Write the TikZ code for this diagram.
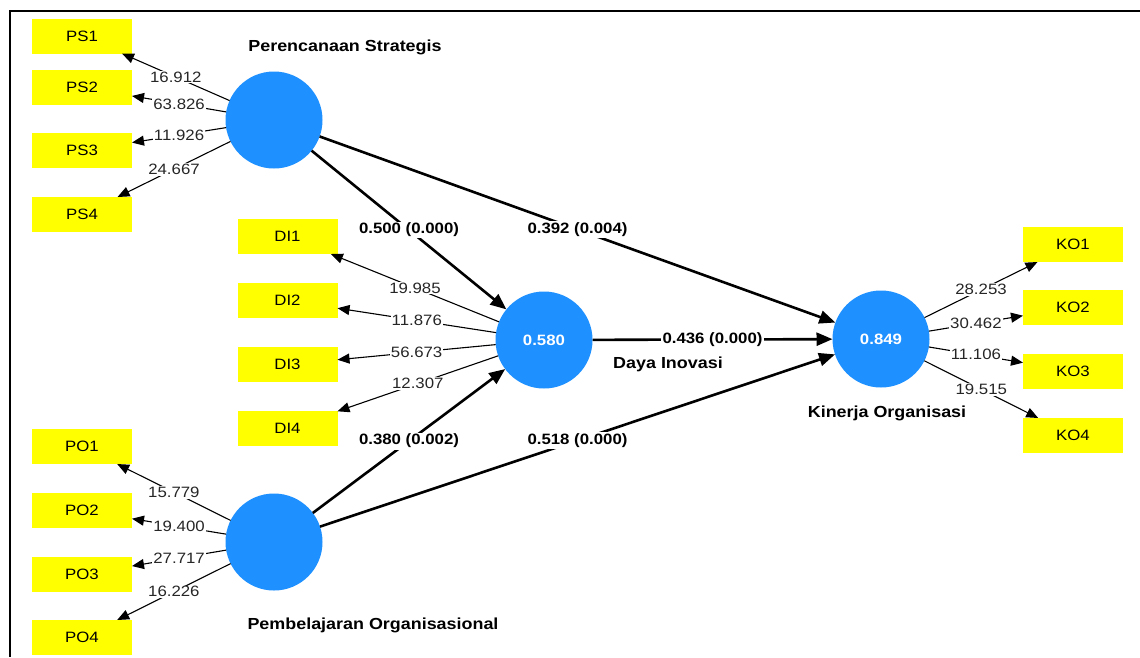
\documentclass[tikz,border=0pt]{standalone}
\usepackage{fontspec}
\setmainfont[FakeStretch=1.12]{Liberation Sans}
\usetikzlibrary{arrows.meta}
\definecolor{lvblue}{RGB}{30,144,255}
\definecolor{indyellow}{RGB}{255,255,0}
\begin{document}
\begin{tikzpicture}[x=1pt,y=-1pt,
 lv/.style={circle, fill=lvblue, minimum size=97pt, inner sep=0pt, outer sep=0pt, text=white, font=\fontsize{15}{18}\selectfont\bfseries},
 ind/.style={rectangle, fill=indyellow, minimum width=100pt, minimum height=35pt, inner sep=0pt, outer sep=0pt, font=\fontsize{15}{18}\selectfont},
 load/.style={-{Triangle[length=12pt,width=10pt]}, line width=1.1pt},
 pathc/.style={-{Triangle[length=16pt,width=13pt]}, line width=2.6pt},
 lnum/.style={fill=white, inner sep=1pt, font=\fontsize{15}{18}\selectfont, text=black!85},
 pnum/.style={fill=white, inner sep=1.5pt, font=\fontsize{15}{18}\selectfont\bfseries},
 lvname/.style={font=\fontsize{16}{19}\selectfont\bfseries}
]
\useasboundingbox (0,0) rectangle (1140,657);
\draw[line width=2pt] (1140,11) coordinate (bTR) -- (10,11) coordinate (bTL) -- (10,657) coordinate (bBL);

% latent variables
\node[lv] (ps) at (274,120) {};
\node[lv] (di) at (544,340) {0.580};
\node[lv] (ko) at (881,339) {0.849};
\node[lv] (po) at (274,542) {};

\node[lvname] (psn) at (345,47) {Perencanaan Strategis};
\node[lvname] (din) at (668,364) {Daya Inovasi};
\node[lvname] (kon) at (887,413) {Kinerja Organisasi};
\node[lvname] (pon) at (373,625) {Pembelajaran Organisasional};

% indicators
\node[ind] (ps1) at (82,36) {PS1};
\node[ind] (ps2) at (82,87.5) {PS2};
\node[ind] (ps3) at (82,150.5) {PS3};
\node[ind] (ps4) at (82,214.5) {PS4};

\node[ind] (di1) at (287.5,236.5) {DI1};
\node[ind] (di2) at (287.5,300.5) {DI2};
\node[ind] (di3) at (287.5,364.5) {DI3};
\node[ind] (di4) at (287.5,428.5) {DI4};

\node[ind] (ko1) at (1073,244.5) {KO1};
\node[ind] (ko2) at (1073,307.5) {KO2};
\node[ind] (ko3) at (1073,371) {KO3};
\node[ind] (ko4) at (1073,435.5) {KO4};

\node[ind] (po1) at (82,446.5) {PO1};
\node[ind] (po2) at (82,510.5) {PO2};
\node[ind] (po3) at (82,574.5) {PO3};
\node[ind] (po4) at (82,637.5) {PO4};

% loadings
\draw[load] (ps) -- node[lnum] {16.912} (ps1);
\draw[load] (ps) -- node[lnum] {63.826} (ps2);
\draw[load] (ps) -- node[lnum] {11.926} (ps3);
\draw[load] (ps) -- node[lnum] {24.667} (ps4);

\draw[load] (di) -- node[lnum] {19.985} (di1);
\draw[load] (di) -- node[lnum] {11.876} (di2);
\draw[load] (di) -- node[lnum] {56.673} (di3);
\draw[load] (di) -- node[lnum] {12.307} (di4);

\draw[load] (ko) -- node[lnum] {28.253} (ko1);
\draw[load] (ko) -- node[lnum] {30.462} (ko2);
\draw[load] (ko) -- node[lnum] {11.106} (ko3);
\draw[load] (ko) -- node[lnum] {19.515} (ko4);

\draw[load] (po) -- node[lnum] {15.779} (po1);
\draw[load] (po) -- node[lnum] {19.400} (po2);
\draw[load] (po) -- node[lnum] {27.717} (po3);
\draw[load] (po) -- node[lnum] {16.226} (po4);

% structural paths
\draw[pathc] (ps) -- node[pnum] {0.500 (0.000)} (di);
\draw[pathc] (ps) -- node[pnum] {0.392 (0.004)} (ko);
\draw[pathc] (di) -- node[pnum] {0.436 (0.000)} (ko);
\draw[pathc] (po) -- node[pnum] {0.380 (0.002)} (di);
\draw[pathc] (po) -- node[pnum] {0.518 (0.000)} (ko);
\end{tikzpicture}
\end{document}
